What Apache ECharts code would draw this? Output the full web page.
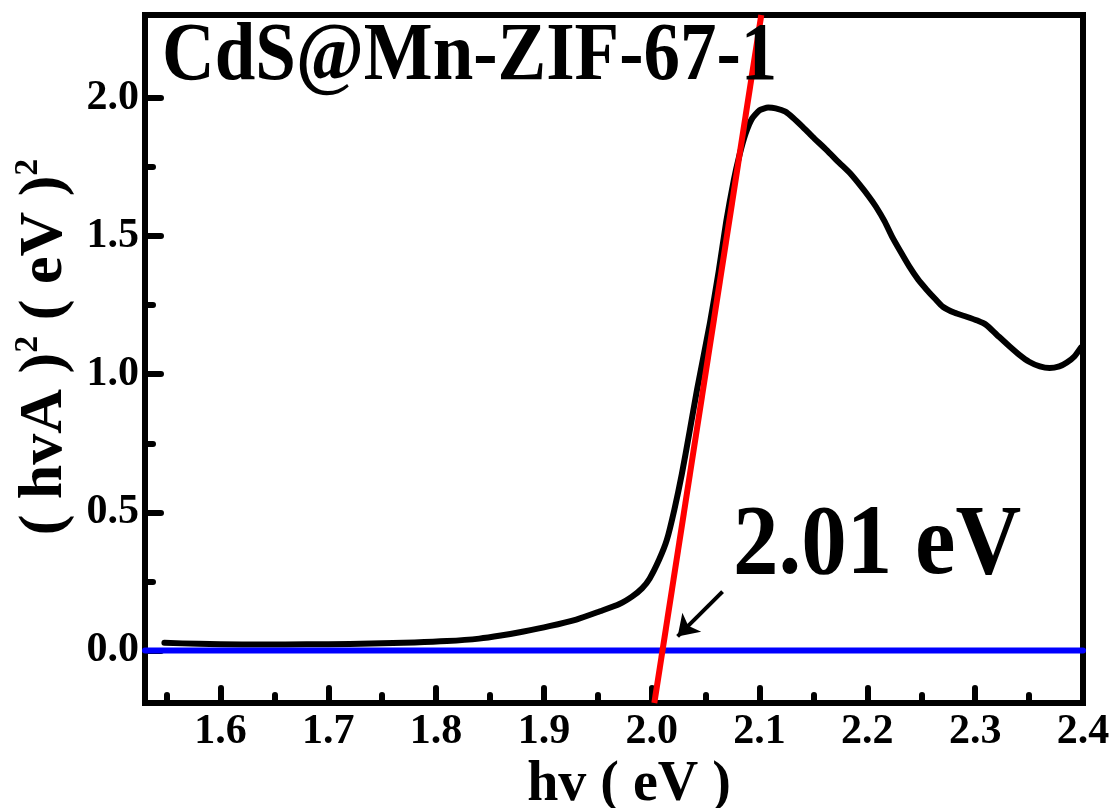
<!DOCTYPE html>
<html>
<head>
<meta charset="utf-8">
<script src="https://cdn.jsdelivr.net/npm/echarts@6/dist/echarts.min.js"></script>
<style>
  html, body { margin: 0; padding: 0; background: #fff; }
  #chart { width: 1113px; height: 808px; }
</style>
</head>
<body>
<div id="chart"></div>
<script>
// Tauc plot
const hv = [1.548, 1.58, 1.62, 1.66, 1.70, 1.74, 1.78, 1.81, 1.84, 1.86, 1.88, 1.905, 1.93, 1.952, 1.97, 1.982,
  1.991, 1.998, 2.007, 2.014, 2.021, 2.028, 2.035, 2.042, 2.054, 2.062, 2.069, 2.076, 2.081, 2.087, 2.093, 2.100,
  2.108, 2.115, 2.124, 2.131, 2.14, 2.149, 2.162, 2.174, 2.184, 2.193, 2.201, 2.208, 2.216, 2.223, 2.231, 2.239,
  2.247, 2.255, 2.263, 2.27, 2.281, 2.292, 2.302, 2.31, 2.32, 2.332, 2.341, 2.35, 2.36, 2.369, 2.378, 2.385,
  2.392, 2.398];
const absSq = [0.028, 0.024, 0.022, 0.022, 0.023, 0.025, 0.029, 0.034, 0.043, 0.054, 0.068, 0.088, 0.112, 0.142,
  0.168, 0.196, 0.225, 0.26, 0.33, 0.40, 0.51, 0.64, 0.79, 0.944, 1.186, 1.37, 1.55, 1.70, 1.787, 1.87, 1.925,
  1.955, 1.965, 1.962, 1.95, 1.928, 1.895, 1.86, 1.812, 1.765, 1.727, 1.685, 1.645, 1.606, 1.553, 1.497, 1.442,
  1.389, 1.343, 1.306, 1.272, 1.244, 1.222, 1.208, 1.194, 1.179, 1.143, 1.10, 1.07, 1.045, 1.028, 1.022, 1.028,
  1.042, 1.064, 1.096];

// linear fit and baseline
const fitX = [2.0024, 2.1016];
const fitY = [-0.19, 2.3];
const baseX = [1.53, 2.4];
const baseY = [0, 0];

// arrow pointing at the intercept
const arrowFrom = [2.0657, 0.213];
const arrowTo = [2.024, 0.051];

const xTicks = [1.6, 1.7, 1.8, 1.9, 2.0, 2.1, 2.2, 2.3, 2.4];
const xMinorTicks = [1.55, 1.65, 1.75, 1.85, 1.95, 2.05, 2.15, 2.25, 2.35];
const yTicks = [0, 0.5, 1.0, 1.5, 2.0];
const yMinorTicks = [0.25, 0.75, 1.25, 1.75];

const sampleName = "CdS@Mn-ZIF-67-1";
const gapLabel = "2.01 eV";

const font = '"Liberation Serif", "Times New Roman", serif';
const xMin = 1.53, xMax = 2.4, yMin = -0.19, yMax = 2.3;

const chart = echarts.init(document.getElementById("chart"));

const frameLine = () => ({ color: "#000", width: 6, cap: "square" });

// an axis that only draws a set of inward ticks
// (echarts seems to trip over the same array being used twice, so copy it)
function tickAxis(position, min, max, values, length) {
  return {
    type: "value",
    position,
    min,
    max,
    axisLine: { show: false, onZero: false },
    axisTick: {
      show: true,
      inside: true,
      length,
      customValues: values.slice(),
      lineStyle: { color: "#000", width: 6, cap: "round" },
    },
    axisLabel: { show: false },
    splitLine: { show: false },
  };
}

// plain frame edge, no ticks or labels
function frameAxis(position, min, max) {
  return {
    type: "value",
    position,
    min,
    max,
    axisLine: { onZero: false, lineStyle: frameLine() },
    axisTick: { show: false },
    axisLabel: { show: false },
    splitLine: { show: false },
  };
}

const option = {
  backgroundColor: "#fff",
  animation: false,
  grid: { left: 145, right: 30, top: 15, bottom: 105, outerBoundsMode: "none", containLabel: false },
  xAxis: [
    {
      type: "value",
      position: "bottom",
      min: xMin,
      max: xMax,
      axisLine: { onZero: false, lineStyle: frameLine() },
      axisTick: { show: false },
      axisLabel: {
        customValues: xTicks.slice(),
        formatter: (v) => v.toFixed(1),
        fontFamily: font,
        fontWeight: "bold",
        fontSize: 42,
        color: "#000",
        margin: 8,
      },
      splitLine: { show: false },
      name: "hv ( eV )",
      nameLocation: "middle",
      nameGap: 50,
      nameTextStyle: {
        fontFamily: font,
        fontWeight: "bold",
        fontSize: 56,
        color: "#000",
        padding: [0, 0, 0, 30],
      },
    },
    tickAxis("bottom", xMin, xMax, xTicks, 15),
    tickAxis("bottom", xMin, xMax, xMinorTicks, 8),
    frameAxis("top", xMin, xMax),
  ],
  yAxis: [
    {
      type: "value",
      position: "left",
      min: yMin,
      max: yMax,
      axisLine: { onZero: false, lineStyle: frameLine() },
      axisTick: { show: false },
      axisLabel: {
        customValues: yTicks.slice(),
        formatter: (v) => v.toFixed(1),
        fontFamily: font,
        fontWeight: "bold",
        fontSize: 42,
        color: "#000",
        margin: 6,
      },
      splitLine: { show: false },
      name: "{t|( hvA )}{s|2}{t| ( eV )}{s|2}",
      nameLocation: "middle",
      nameGap: 58,
      nameTextStyle: {
        color: "#000",
        padding: [0, 0, 0, 24],
        rich: {
          t: { fontFamily: font, fontWeight: "bold", fontSize: 62, lineHeight: 66, color: "#000" },
          s: { fontFamily: font, fontWeight: "bold", fontSize: 34, lineHeight: 66, verticalAlign: "top", color: "#000" },
        },
      },
    },
    tickAxis("left", yMin, yMax, yTicks, 16),
    tickAxis("left", yMin, yMax, yMinorTicks, 8),
    frameAxis("right", yMin, yMax),
  ],
  series: [
    {
      name: "Tauc",
      type: "line",
      data: hv.map((x, i) => [x, absSq[i]]),
      showSymbol: false,
      symbol: "none",
      smooth: 0.2,
      lineStyle: { color: "#000", width: 6, cap: "round", join: "round" },
      z: 2,
    },
    {
      name: "baseline",
      type: "line",
      data: baseX.map((x, i) => [x, baseY[i]]),
      symbol: "none",
      lineStyle: { color: "#0000ff", width: 6, cap: "round" },
      z: 3,
    },
    {
      name: "fit",
      type: "line",
      data: fitX.map((x, i) => [x, fitY[i]]),
      symbol: "none",
      lineStyle: { color: "#ff0000", width: 6 },
      z: 4,
    },
    {
      name: "arrow",
      type: "lines",
      coordinateSystem: "cartesian2d",
      data: [{ coords: [arrowFrom, arrowTo] }],
      symbol: ["none", "arrow"],
      symbolSize: 20,
      lineStyle: { color: "#000", width: 4, opacity: 1 },
      z: 5,
    },
  ],
  graphic: [
    {
      type: "text",
      x: 162,
      y: 17,
      scaleX: 0.89,
      z: 10,
      style: {
        text: sampleName,
        fill: "#000",
        fontFamily: font,
        fontWeight: "bold",
        fontSize: 82,
        verticalAlign: "top",
      },
    },
    {
      type: "text",
      x: 733,
      y: 497,
      scaleX: 0.91,
      z: 10,
      style: {
        text: gapLabel,
        fill: "#000",
        fontFamily: font,
        fontWeight: "bold",
        fontSize: 100,
        verticalAlign: "top",
      },
    },
  ],
};

chart.setOption(option);
</script>
</body>
</html>
